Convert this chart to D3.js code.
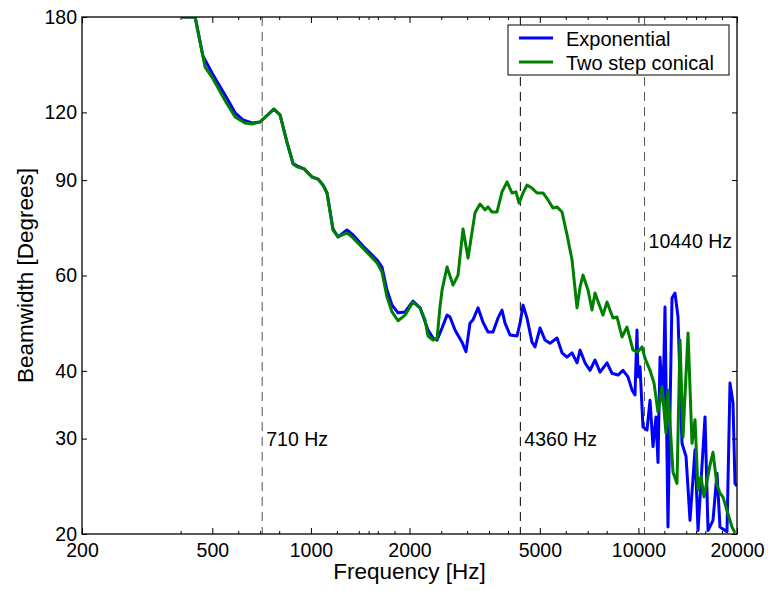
<!DOCTYPE html>
<html>
  <head>
    <meta charset="utf-8">
    <title>beamwidth</title>
    <style media="screen">
    body{margin:0;background:#fff}
    svg{display:block}
    text{font-family:"Liberation Sans", Arial, sans-serif;fill:#000}
    </style>
  </head>
  <body>
    <svg width="768" height="591"></svg>
    <script src="https://d3js.org/d3.v7.min.js"></script>
    <script>

    // exponential horn
    var expFreq = [404, 443, 468, 502, 554, 587, 620, 661, 699, 771, 805, 845, 882, 907, 953, 1008, 1051, 1089, 1120, 1168,
      1210, 1289, 1345, 1442, 1592, 1648, 1707, 1769, 1845, 1938, 2050, 2154, 2278, 2360, 2427, 2514, 2604, 2659, 2754, 2893,
      2975, 3060, 3125, 3238, 3353, 3473, 3598, 3727, 3832, 3915, 4055, 4259, 4351, 4443, 4568, 4732, 4834, 5008, 5186, 5373,
      5643, 5844, 6054, 6271, 6494, 6635, 6870, 7117, 7370, 7635, 8018, 8304, 8662, 8974, 9294, 9558, 9762, 9900, 9970, 10114,
      10328, 10623, 10851, 11080, 11316, 11476, 11641, 11887, 12056, 12311, 12664, 12933, 13210, 13588, 13976, 14374, 14888, 15206, 15972, 16312,
      16894, 17376, 17748, 18642, 19040, 19446, 19720, 20000];
    var expBw = [180, 180, 152.5, 141.0, 127.5, 119.8, 116.2, 114.7, 115.2, 121.7, 118.7, 105.8, 96.6, 95.6, 94.4, 91.2, 90.4, 88.1, 85.2, 73.1,
      70.7, 72.8, 71.3, 68.0, 64.1, 62.2, 56.4, 52.9, 51.2, 51.4, 53.8, 52.3, 47.6, 46.0, 45.6, 48.0, 50.7, 50.3, 47.6, 45.2,
      43.4, 49.0, 49.7, 52.3, 49.2, 47.2, 47.2, 50.1, 51.8, 49.0, 46.6, 46.4, 49.0, 52.9, 50.1, 45.2, 44.3, 48.0, 45.6, 45.0,
      46.0, 43.2, 42.4, 43.2, 41.4, 43.7, 41.4, 40.1, 41.9, 39.8, 41.4, 39.6, 39.3, 40.1, 39.0, 36.9, 36.1, 47.6, 39.0, 40.7,
      31.5, 31.1, 35.3, 29.0, 32.9, 27.1, 42.4, 34.9, 52.5, 20.6, 54.5, 55.7, 50.3, 29.4, 27.8, 21.2, 28.6, 20.3, 32.9, 20.3,
      21.2, 25.9, 20.6, 20.2, 38.0, 34.9, 24.8, 24.5];

    // two step conical horn
    var coneFreq = [404, 443, 475, 502, 554, 587, 629, 661, 699, 771, 805, 845, 882, 907, 953, 1008, 1051, 1089, 1120, 1168,
      1210, 1289, 1345, 1442, 1592, 1648, 1707, 1769, 1845, 1938, 2050, 2154, 2230, 2278, 2360, 2427, 2478, 2514, 2604, 2716,
      2813, 2914, 3018, 3170, 3284, 3401, 3473, 3572, 3701, 3832, 3971, 4112, 4229, 4320, 4443, 4568, 4732, 4902, 5113, 5297,
      5487, 5643, 5844, 6054, 6271, 6494, 6635, 6774, 7015, 7216, 7370, 7635, 7794, 8018, 8362, 8602, 8910, 9229, 9626, 9970,
      10256, 10475, 10851, 11158, 11476, 11803, 12140, 12311, 12753, 13116, 13398, 13684, 14174, 14577, 14888, 15206, 15530, 15860, 16543, 16894,
      17376, 17748, 18127, 18642, 19307, 19720];
    var coneBw = [180, 180, 145.6, 138.5, 124.5, 117.7, 114.7, 114.2, 115.2, 121.7, 118.7, 105.8, 96.4, 95.2, 94.4, 91.2, 90.4, 88.1, 85.2, 72.8,
      70.7, 71.9, 70.4, 67.4, 63.3, 60.9, 54.8, 51.4, 49.5, 50.7, 53.6, 52.3, 49.7, 46.4, 45.6, 45.8, 52.5, 56.4, 62.2, 57.6,
      60.1, 73.1, 64.6, 78.3, 81.3, 79.3, 80.3, 78.6, 78.6, 85.6, 89.3, 85.2, 85.6, 81.6, 85.2, 88.1, 87.0, 85.2, 85.2, 82.7,
      79.9, 80.3, 78.6, 71.3, 64.1, 52.3, 57.1, 60.1, 56.4, 51.8, 55.7, 52.5, 50.7, 53.6, 50.1, 50.3, 46.2, 48.2, 43.7, 43.4,
      44.3, 42.2, 40.1, 38.0, 33.6, 37.4, 30.7, 36.9, 26.0, 24.8, 45.6, 30.2, 47.0, 29.4, 32.5, 24.1, 25.5, 23.4, 26.8, 28.3,
      24.6, 23.8, 23.4, 22.1, 20.6, 20.1];

    var seriesNames = ["Exponential", "Two step conical"];
    var markers = [710, 4360, 10440];
    var xTicks = [200, 500, 1000, 2000, 5000, 10000, 20000];
    var xMinor = [400, 600, 700, 800, 1200, 1400, 1500, 1600, 1800, 2500, 3000, 3500, 4000, 6000, 7000, 8000, 12000, 14000, 15000, 16000, 18000];
    var yTicks = [20, 30, 40, 60, 90, 120, 180];

    var pLeft = 82, pRight = 737, pTop = 17, pBottom = 534;

    var x = d3.scaleLog().domain([200, 20000]).range([pLeft, pRight]);
    var y = d3.scaleLog().domain([20, 180]).range([pBottom, pTop]);

    var svg = d3.select("svg");

    svg.append("defs").append("clipPath").attr("id", "plot")
      .append("rect").attr("x", pLeft).attr("y", pTop).attr("width", pRight - pLeft).attr("height", pBottom - pTop);

    // dashed marker lines
    var markerGray = ["#555", "#000", "#555"];
    svg.append("g").selectAll("line").data(markers).enter().append("line")
      .attr("x1", function(d) { return x(d); }).attr("x2", function(d) { return x(d); })
      .attr("y1", pTop).attr("y2", pBottom)
      .attr("stroke", function(d, i) { return markerGray[i]; }).attr("stroke-width", 1).attr("stroke-dasharray", "9,6");

    // marker labels
    var labelPos = [440, 440, 242];
    svg.append("g").selectAll("text").data(markers).enter().append("text")
      .attr("x", function(d) { return x(d) + 4; })
      .attr("y", function(d, i) { return labelPos[i] + 6; })
      .attr("font-size", "19.5px")
      .text(function(d) { return d + " Hz"; });

    var line = d3.line()
      .x(function(d) { return x(d[0]); })
      .y(function(d) { return y(d[1]); });

    var series = [
      { name: seriesNames[0], color: "#0000ff", data: d3.zip(expFreq, expBw) },
      { name: seriesNames[1], color: "#008000", data: d3.zip(coneFreq, coneBw) }
    ];

    svg.append("g").attr("clip-path", "url(#plot)").selectAll("path").data(series).enter().append("path")
      .attr("d", function(d) { return line(d.data); })
      .attr("fill", "none")
      .attr("stroke", function(d) { return d.color; })
      .attr("stroke-width", 3)
      .attr("stroke-linejoin", "round");

    // axes, ticks pointing inward
    var fmt = function(d) { return d; };
    var gx = svg.append("g").attr("transform", "translate(0," + pBottom + ")")
      .call(d3.axisBottom(x).tickValues(xTicks).tickFormat(fmt).tickSizeInner(-6).tickSizeOuter(0).tickPadding(9));
    svg.append("g").attr("transform", "translate(0," + pBottom + ")")
      .call(d3.axisBottom(x).tickValues(xMinor).tickFormat("").tickSizeInner(-3).tickSizeOuter(0));
    svg.append("g").attr("transform", "translate(0," + pTop + ")")
      .call(d3.axisTop(x).tickValues(xTicks).tickFormat("").tickSizeInner(-6).tickSizeOuter(0));
    svg.append("g").attr("transform", "translate(0," + pTop + ")")
      .call(d3.axisTop(x).tickValues(xMinor).tickFormat("").tickSizeInner(-3).tickSizeOuter(0));
    var gy = svg.append("g").attr("transform", "translate(" + pLeft + ",0)")
      .call(d3.axisLeft(y).tickValues(yTicks).tickFormat(fmt).tickSizeInner(-5).tickSizeOuter(0).tickPadding(5));
    svg.append("g").attr("transform", "translate(" + pRight + ",0)")
      .call(d3.axisRight(y).tickValues(yTicks).tickFormat("").tickSizeInner(-5).tickSizeOuter(0));

    svg.selectAll(".domain").remove();
    svg.selectAll(".tick line").attr("stroke", "#000");
    gx.selectAll("text").attr("font-size", "19.5px").attr("font-family", "Liberation Sans, Arial, sans-serif").attr("fill", "#000");
    gy.selectAll("text").attr("font-size", "19.5px").attr("font-family", "Liberation Sans, Arial, sans-serif").attr("fill", "#000");

    // frame
    svg.append("rect").attr("x", pLeft).attr("y", pTop).attr("width", pRight - pLeft).attr("height", pBottom - pTop)
      .attr("fill", "none").attr("stroke", "#000").attr("stroke-width", 1.3);

    // axis titles
    svg.append("text").attr("x", (pLeft + pRight) / 2).attr("y", 579)
      .attr("text-anchor", "middle").attr("font-size", "22.5px").text("Frequency [Hz]");
    svg.append("text").attr("transform", "translate(33," + (pTop + pBottom) / 2 + ") rotate(-90)")
      .attr("text-anchor", "middle").attr("font-size", "22.5px").text("Beamwidth [Degrees]");

    // legend
    var lg = svg.append("g");
    lg.append("rect").attr("x", 508).attr("y", 25).attr("width", 221).attr("height", 50)
      .attr("fill", "#fff").attr("stroke", "#000").attr("stroke-width", 1);
    var items = lg.selectAll("g").data(series).enter().append("g")
      .attr("transform", function(d, i) { return "translate(0," + (38 + i * 24) + ")"; });
    items.append("line").attr("x1", 519).attr("x2", 553).attr("y1", 0).attr("y2", 0)
      .attr("stroke", function(d) { return d.color; }).attr("stroke-width", 3);
    items.append("text").attr("x", 566).attr("y", 7.5).attr("font-size", "20px")
      .text(function(d) { return d.name; });

    </script>
  </body>
</html>
